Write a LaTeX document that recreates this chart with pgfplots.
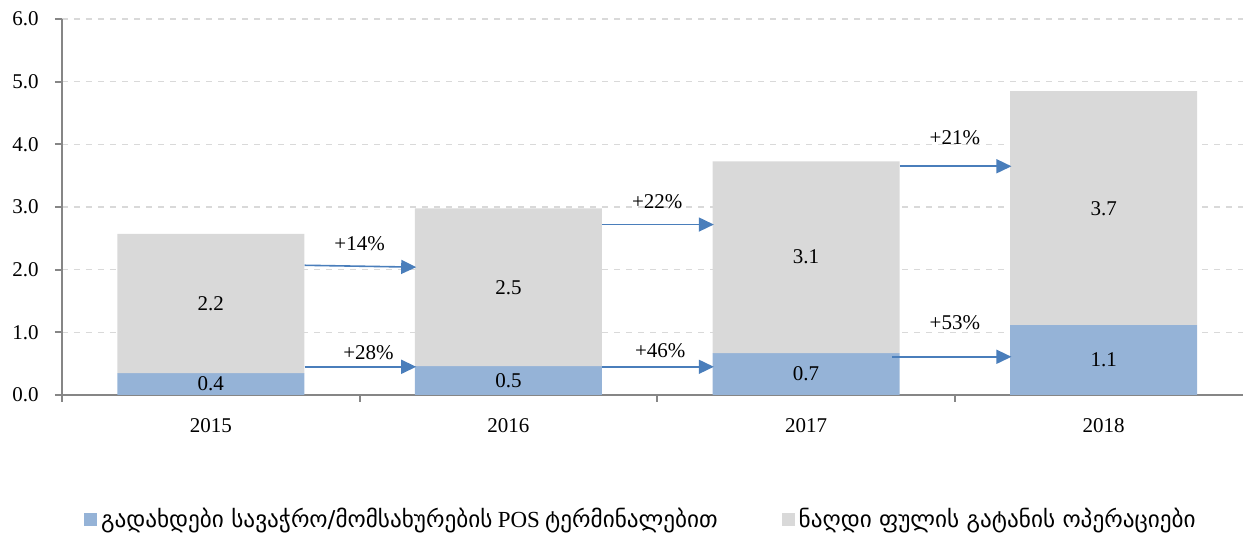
\documentclass[border=0pt]{standalone}
\usepackage{fontspec}
\setmainfont{Liberation Serif}
\newfontfamily\geofont{DejaVu Sans}
\protected\def\geo#1{{\geofont\fontsize{11.6}{13}\selectfont #1}}
\usepackage{pgfplots}
\pgfplotsset{compat=1.18}
\usetikzlibrary{arrows.meta}
\definecolor{barblue}{HTML}{95B3D7}
\definecolor{bargrey}{HTML}{D9D9D9}
\definecolor{arrblue}{HTML}{4A7EBB}
\definecolor{axgrey}{HTML}{868686}
\definecolor{gridgrey}{HTML}{D9D9D9}
\begin{document}
\begin{tikzpicture}
\fontsize{10.5}{12}\selectfont
\path[use as bounding box] (-31pt,-70pt) rectangle (590.5pt,197.5pt);
\begin{axis}[
  scale only axis, width=590.5pt, height=188pt,
  at={(0pt,0pt)}, anchor=south west,
  xmin=-0.5, xmax=3.468, ymin=0, ymax=6,
  ybar stacked, reverse stacked plots=false, bar width=93.5pt,
  axis x line*=bottom, axis y line*=left,
  axis line style={axgrey, line width=1pt},
  ytick={0,1,2,3,4,5,6},
  yticklabel style={xshift=-4.5pt, /pgf/number format/fixed, /pgf/number format/fixed zerofill, /pgf/number format/precision=1, /pgf/number format/assume math mode=true},
  xticklabel style={yshift=-8pt},
  ymajorgrids, grid style={gridgrey, dashed, line width=0.6pt},
  tick align=outside, major tick length=3.5pt, tick style={axgrey, line width=1pt},
  xtick={-0.5,0.5,1.5,2.5,3.5}, xticklabels={},
  extra x ticks={0,1,2,3}, extra x tick labels={2015,2016,2017,2018},
  extra x tick style={major tick length=0pt, grid=none},
  legend image code/.code={\fill[#1] (0pt,-3.2pt) rectangle (6.5pt,3.2pt);},
  legend style={at={(0.491,-0.332)}, anchor=center, draw=none, legend columns=2,
    font=\fontsize{10.5}{12}\selectfont,
    /tikz/every even column/.append style={column sep=30pt}},
  legend cell align=left,
]
\addplot[fill=barblue, draw=none] coordinates {(0,0.35) (1,0.46) (2,0.67) (3,1.12)};
\addlegendentry{\geo{გადახდები სავაჭრო/მომსახურების} {\fontsize{11.5}{13}\selectfont POS} \geo{ტერმინალებით}}
\addplot[fill=bargrey, draw=none] coordinates {(0,2.22) (1,2.52) (2,3.06) (3,3.73)};
\addlegendentry{\geo{ნაღდი ფულის გატანის ოპერაციები}}
% value labels
\node at (axis cs:0,1.46) {2.2};
\node at (axis cs:1,1.72) {2.5};
\node at (axis cs:2,2.20) {3.1};
\node at (axis cs:3,2.98) {3.7};
\node at (axis cs:0,0.175) {0.4};
\node at (axis cs:1,0.23) {0.5};
\node at (axis cs:2,0.335) {0.7};
\node at (axis cs:3,0.56) {1.1};
% arrows
\draw[arrblue, line width=0.8pt, -{Triangle[length=7.5pt,width=7pt]}] (axis cs:0.315,2.07) -- (axis cs:0.69,2.04);
\draw[arrblue, line width=0.8pt, -{Triangle[length=7.5pt,width=7pt]}] (axis cs:1.315,2.72) -- (axis cs:1.69,2.72);
\draw[arrblue, line width=0.8pt, -{Triangle[length=7.5pt,width=7pt]}] (axis cs:2.315,3.65) -- (axis cs:2.69,3.65);
\draw[arrblue, line width=0.8pt, -{Triangle[length=7.5pt,width=7pt]}] (axis cs:0.315,0.45) -- (axis cs:0.69,0.45);
\draw[arrblue, line width=0.8pt, -{Triangle[length=7.5pt,width=7pt]}] (axis cs:1.315,0.45) -- (axis cs:1.69,0.45);
\draw[arrblue, line width=0.8pt, -{Triangle[length=7.5pt,width=7pt]}] (axis cs:2.29,0.61) -- (axis cs:2.69,0.61);
\node at (axis cs:0.5,2.42) {+14\%};
\node at (axis cs:0.53,0.68) {+28\%};
\node at (axis cs:1.5,3.09) {+22\%};
\node at (axis cs:1.51,0.70) {+46\%};
\node at (axis cs:2.5,4.10) {+21\%};
\node at (axis cs:2.5,1.16) {+53\%};
\end{axis}
\end{tikzpicture}
\end{document}
